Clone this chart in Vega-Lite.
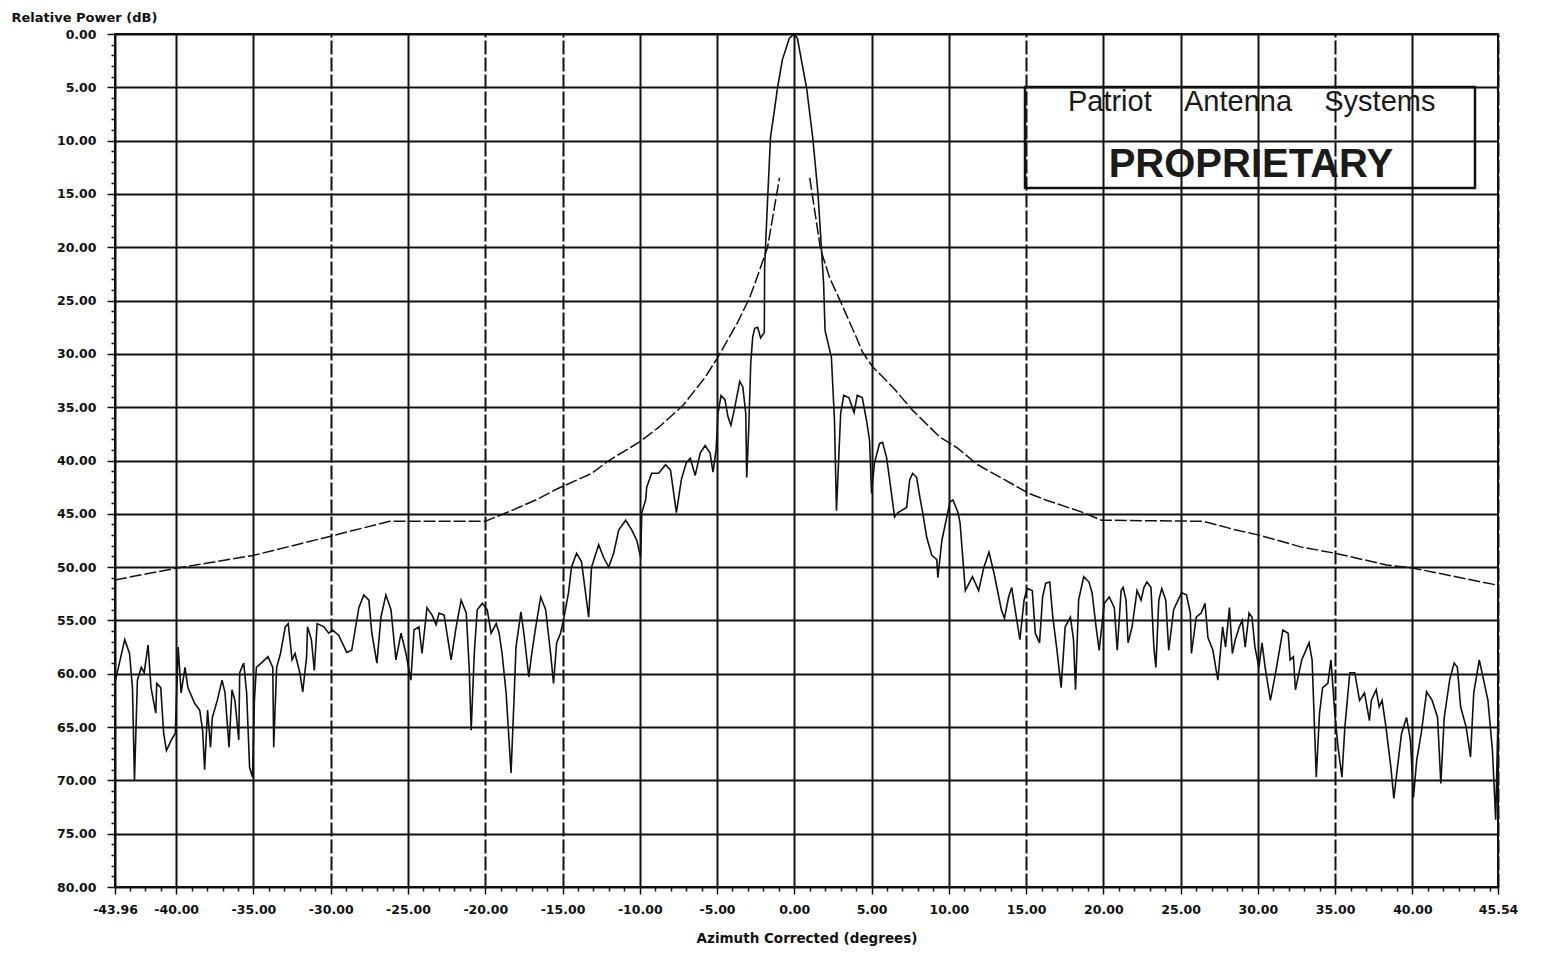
{
  "$schema": "https://vega.github.io/schema/vega-lite/v6.json",
  "width": 1383,
  "height": 853,
  "autosize": {"type": "none"},
  "padding": {"left": 115, "top": 34, "right": 53, "bottom": 73},
  "background": "white",
  "config": {"view": {"stroke": "#111", "strokeWidth": 2}, "font": "DejaVu Sans"},
  "datasets": {
    "mask": [
      {"side": "L", "az": -43.96, "db": 51.2}, {"side": "L", "az": -40, "db": 50.1}, {"side": "L", "az": -35, "db": 48.9},
      {"side": "L", "az": -30, "db": 47.1}, {"side": "L", "az": -26.2, "db": 45.7}, {"side": "L", "az": -20, "db": 45.7},
      {"side": "L", "az": -18.46, "db": 44.8}, {"side": "L", "az": -16.73, "db": 43.7}, {"side": "L", "az": -15.26, "db": 42.6},
      {"side": "L", "az": -13.1, "db": 41.2}, {"side": "L", "az": -12.0, "db": 40.0}, {"side": "L", "az": -10.06, "db": 38.3},
      {"side": "L", "az": -8.78, "db": 36.9}, {"side": "L", "az": -7.18, "db": 34.8}, {"side": "L", "az": -5.77, "db": 32.2},
      {"side": "L", "az": -4.94, "db": 30.3}, {"side": "L", "az": -3.65, "db": 27.0}, {"side": "L", "az": -2.88, "db": 24.7},
      {"side": "L", "az": -2.45, "db": 23.0}, {"side": "L", "az": -1.73, "db": 20.0}, {"side": "L", "az": -0.96, "db": 13.5},
      {"side": "R", "az": 1.0, "db": 13.5}, {"side": "R", "az": 1.7, "db": 20.2}, {"side": "R", "az": 2.3, "db": 22.9},
      {"side": "R", "az": 2.87, "db": 24.7}, {"side": "R", "az": 3.33, "db": 26.2}, {"side": "R", "az": 4.0, "db": 28.4},
      {"side": "R", "az": 4.4, "db": 29.8}, {"side": "R", "az": 5.06, "db": 31.2}, {"side": "R", "az": 6.36, "db": 33.1},
      {"side": "R", "az": 7.66, "db": 35.3}, {"side": "R", "az": 9.42, "db": 37.8}, {"side": "R", "az": 10.53, "db": 38.8},
      {"side": "R", "az": 11.87, "db": 40.4}, {"side": "R", "az": 13.6, "db": 41.8}, {"side": "R", "az": 15.2, "db": 43.1},
      {"side": "R", "az": 16.27, "db": 43.7}, {"side": "R", "az": 18.73, "db": 44.9}, {"side": "R", "az": 19.87, "db": 45.6},
      {"side": "R", "az": 26.46, "db": 45.7}, {"side": "R", "az": 28.54, "db": 46.5}, {"side": "R", "az": 30.07, "db": 47.0},
      {"side": "R", "az": 32.77, "db": 48.1}, {"side": "R", "az": 35.0, "db": 48.7}, {"side": "R", "az": 38.35, "db": 49.8},
      {"side": "R", "az": 40.07, "db": 50.1}, {"side": "R", "az": 45.54, "db": 51.7}
    ],
    "pattern": [
      {"az": -43.96, "db": 60.8}, {"az": -43.33, "db": 56.8}, {"az": -43.02, "db": 58.1}, {"az": -42.83, "db": 61.3},
      {"az": -42.7, "db": 70.0}, {"az": -42.51, "db": 60.6}, {"az": -42.26, "db": 59.4}, {"az": -42.07, "db": 59.9},
      {"az": -41.82, "db": 57.3}, {"az": -41.63, "db": 61.3}, {"az": -41.32, "db": 63.7}, {"az": -41.26, "db": 60.9},
      {"az": -41.0, "db": 61.3}, {"az": -40.81, "db": 65.6}, {"az": -40.63, "db": 67.2}, {"az": -40.31, "db": 66.2},
      {"az": -40.06, "db": 65.6}, {"az": -39.87, "db": 57.5}, {"az": -39.68, "db": 61.8}, {"az": -39.43, "db": 59.4},
      {"az": -39.24, "db": 61.3}, {"az": -38.8, "db": 62.8}, {"az": -38.48, "db": 63.4}, {"az": -38.29, "db": 65.3},
      {"az": -38.16, "db": 69.0}, {"az": -37.97, "db": 63.4}, {"az": -37.78, "db": 66.9}, {"az": -37.66, "db": 64.1},
      {"az": -37.34, "db": 62.5}, {"az": -37.03, "db": 60.6}, {"az": -36.84, "db": 61.8}, {"az": -36.58, "db": 66.9},
      {"az": -36.39, "db": 61.5}, {"az": -36.2, "db": 62.5}, {"az": -35.95, "db": 66.2}, {"az": -35.89, "db": 59.9},
      {"az": -35.63, "db": 59.0}, {"az": -35.44, "db": 61.8}, {"az": -35.25, "db": 68.8}, {"az": -35.06, "db": 69.7},
      {"az": -34.94, "db": 62.5}, {"az": -34.81, "db": 59.4}, {"az": -34.5, "db": 59.0}, {"az": -34.06, "db": 58.4},
      {"az": -33.75, "db": 59.4}, {"az": -33.69, "db": 66.9}, {"az": -33.5, "db": 59.4}, {"az": -33.25, "db": 58.1},
      {"az": -32.94, "db": 55.6}, {"az": -32.75, "db": 55.3}, {"az": -32.5, "db": 58.7}, {"az": -32.31, "db": 58.1},
      {"az": -32.0, "db": 59.9}, {"az": -31.81, "db": 61.7}, {"az": -31.56, "db": 58.4}, {"az": -31.5, "db": 55.6},
      {"az": -31.25, "db": 56.8}, {"az": -31.06, "db": 59.7}, {"az": -30.88, "db": 55.3}, {"az": -30.44, "db": 55.6},
      {"az": -30.13, "db": 56.2}, {"az": -29.87, "db": 55.9}, {"az": -29.48, "db": 56.4}, {"az": -28.96, "db": 58.0},
      {"az": -28.64, "db": 57.8}, {"az": -28.18, "db": 53.8}, {"az": -27.86, "db": 52.6}, {"az": -27.53, "db": 53.1},
      {"az": -27.34, "db": 56.2}, {"az": -27.01, "db": 59.0}, {"az": -26.75, "db": 54.7}, {"az": -26.43, "db": 52.6},
      {"az": -26.1, "db": 54.0}, {"az": -25.78, "db": 58.7}, {"az": -25.45, "db": 56.2}, {"az": -25.13, "db": 58.1},
      {"az": -24.81, "db": 60.6}, {"az": -24.61, "db": 55.9}, {"az": -24.29, "db": 55.6}, {"az": -24.09, "db": 58.1},
      {"az": -23.77, "db": 53.8}, {"az": -23.44, "db": 54.5}, {"az": -23.18, "db": 55.4}, {"az": -22.99, "db": 54.3},
      {"az": -22.66, "db": 54.5}, {"az": -22.21, "db": 58.7}, {"az": -21.88, "db": 55.6}, {"az": -21.56, "db": 53.1},
      {"az": -21.23, "db": 54.3}, {"az": -21.04, "db": 59.4}, {"az": -20.91, "db": 65.3}, {"az": -20.71, "db": 58.1},
      {"az": -20.52, "db": 54.0}, {"az": -20.19, "db": 53.4}, {"az": -19.87, "db": 54.0}, {"az": -19.62, "db": 56.2},
      {"az": -19.29, "db": 55.3}, {"az": -19.1, "db": 56.2}, {"az": -18.91, "db": 58.1}, {"az": -18.65, "db": 61.8},
      {"az": -18.33, "db": 69.3}, {"az": -18.14, "db": 62.5}, {"az": -18.01, "db": 57.5}, {"az": -17.69, "db": 54.2},
      {"az": -17.5, "db": 56.2}, {"az": -17.18, "db": 60.3}, {"az": -16.99, "db": 58.1}, {"az": -16.73, "db": 55.6},
      {"az": -16.41, "db": 52.8}, {"az": -16.09, "db": 54.0}, {"az": -15.77, "db": 58.1}, {"az": -15.58, "db": 60.9},
      {"az": -15.38, "db": 57.1}, {"az": -15.13, "db": 56.2}, {"az": -14.94, "db": 55.0}, {"az": -14.61, "db": 52.4},
      {"az": -14.42, "db": 50.0}, {"az": -14.09, "db": 48.7}, {"az": -13.77, "db": 49.5}, {"az": -13.51, "db": 52.4},
      {"az": -13.31, "db": 54.7}, {"az": -13.12, "db": 50.0}, {"az": -12.66, "db": 47.9}, {"az": -12.34, "db": 49.1},
      {"az": -12.01, "db": 50.0}, {"az": -11.69, "db": 48.7}, {"az": -11.36, "db": 46.5}, {"az": -10.91, "db": 45.6},
      {"az": -10.52, "db": 46.5}, {"az": -10.19, "db": 47.5}, {"az": -9.94, "db": 49.1}, {"az": -9.87, "db": 44.9},
      {"az": -9.62, "db": 43.7}, {"az": -9.55, "db": 42.5}, {"az": -9.23, "db": 41.2}, {"az": -8.78, "db": 41.2},
      {"az": -8.33, "db": 40.4}, {"az": -8.01, "db": 40.9}, {"az": -7.63, "db": 44.9}, {"az": -7.31, "db": 41.8},
      {"az": -6.99, "db": 40.2}, {"az": -6.73, "db": 39.8}, {"az": -6.41, "db": 41.4}, {"az": -6.09, "db": 39.3},
      {"az": -5.77, "db": 38.6}, {"az": -5.45, "db": 39.3}, {"az": -5.26, "db": 41.1}, {"az": -5.06, "db": 39.0},
      {"az": -4.94, "db": 35.6}, {"az": -4.74, "db": 33.9}, {"az": -4.49, "db": 34.3}, {"az": -4.29, "db": 35.9},
      {"az": -4.1, "db": 36.7}, {"az": -3.85, "db": 35.0}, {"az": -3.53, "db": 32.6}, {"az": -3.33, "db": 33.1},
      {"az": -3.14, "db": 35.6}, {"az": -3.08, "db": 41.6}, {"az": -2.95, "db": 37.1}, {"az": -2.82, "db": 30.9},
      {"az": -2.69, "db": 28.4}, {"az": -2.56, "db": 27.6}, {"az": -2.37, "db": 27.5}, {"az": -2.18, "db": 28.5},
      {"az": -1.94, "db": 28.0}, {"az": -1.93, "db": 25.0}, {"az": -1.92, "db": 21.9}, {"az": -1.73, "db": 15.6},
      {"az": -1.54, "db": 9.7}, {"az": -1.28, "db": 7.1}, {"az": -1.09, "db": 5.1}, {"az": -0.77, "db": 2.4},
      {"az": -0.32, "db": 0.4}, {"az": 0, "db": 0}, {"az": 0.2, "db": 0.4}, {"az": 0.8, "db": 5.1},
      {"az": 1.2, "db": 9.8}, {"az": 1.53, "db": 14.9}, {"az": 1.73, "db": 19.5}, {"az": 1.9, "db": 23.5},
      {"az": 1.99, "db": 27.8}, {"az": 2.4, "db": 30.3}, {"az": 2.6, "db": 36.2}, {"az": 2.73, "db": 44.7},
      {"az": 3.0, "db": 35.6}, {"az": 3.2, "db": 33.9}, {"az": 3.53, "db": 34.1}, {"az": 3.87, "db": 35.5},
      {"az": 4.07, "db": 33.9}, {"az": 4.4, "db": 34.1}, {"az": 4.67, "db": 36.2}, {"az": 4.87, "db": 38.1},
      {"az": 5.0, "db": 43.1}, {"az": 5.19, "db": 40.2}, {"az": 5.52, "db": 38.4}, {"az": 5.71, "db": 38.3},
      {"az": 5.97, "db": 39.7}, {"az": 6.17, "db": 41.8}, {"az": 6.49, "db": 45.3}, {"az": 6.69, "db": 44.9},
      {"az": 7.27, "db": 44.4}, {"az": 7.47, "db": 41.8}, {"az": 7.66, "db": 41.2}, {"az": 7.92, "db": 41.6},
      {"az": 8.12, "db": 43.4}, {"az": 8.31, "db": 44.9}, {"az": 8.57, "db": 47.2}, {"az": 8.9, "db": 48.9},
      {"az": 9.22, "db": 49.3}, {"az": 9.29, "db": 51.0}, {"az": 9.55, "db": 47.5}, {"az": 9.87, "db": 45.3},
      {"az": 10.07, "db": 43.9}, {"az": 10.27, "db": 43.7}, {"az": 10.6, "db": 44.9}, {"az": 10.73, "db": 45.9},
      {"az": 11.07, "db": 52.2}, {"az": 11.53, "db": 50.9}, {"az": 11.93, "db": 52.2}, {"az": 12.27, "db": 50.0},
      {"az": 12.6, "db": 48.6}, {"az": 12.93, "db": 50.6}, {"az": 13.4, "db": 54.0}, {"az": 13.6, "db": 54.8},
      {"az": 13.87, "db": 52.8}, {"az": 14.07, "db": 51.9}, {"az": 14.27, "db": 53.8}, {"az": 14.6, "db": 56.8},
      {"az": 14.87, "db": 53.1}, {"az": 15.07, "db": 52.0}, {"az": 15.4, "db": 52.2}, {"az": 15.6, "db": 56.2},
      {"az": 15.87, "db": 57.1}, {"az": 16.07, "db": 52.8}, {"az": 16.27, "db": 51.5}, {"az": 16.53, "db": 51.4},
      {"az": 16.73, "db": 54.7}, {"az": 17.0, "db": 57.8}, {"az": 17.27, "db": 61.3}, {"az": 17.53, "db": 55.6},
      {"az": 17.87, "db": 54.7}, {"az": 18.07, "db": 56.8}, {"az": 18.2, "db": 61.5}, {"az": 18.4, "db": 53.1},
      {"az": 18.73, "db": 50.9}, {"az": 19.07, "db": 51.4}, {"az": 19.27, "db": 52.4}, {"az": 19.53, "db": 55.6},
      {"az": 19.73, "db": 57.8}, {"az": 20.06, "db": 53.4}, {"az": 20.38, "db": 52.8}, {"az": 20.71, "db": 53.8},
      {"az": 20.9, "db": 57.8}, {"az": 21.15, "db": 52.2}, {"az": 21.28, "db": 51.9}, {"az": 21.47, "db": 53.1},
      {"az": 21.6, "db": 57.1}, {"az": 21.86, "db": 55.6}, {"az": 22.18, "db": 52.2}, {"az": 22.44, "db": 53.1},
      {"az": 22.63, "db": 51.9}, {"az": 22.82, "db": 51.4}, {"az": 23.08, "db": 51.9}, {"az": 23.27, "db": 57.5},
      {"az": 23.4, "db": 59.4}, {"az": 23.59, "db": 53.1}, {"az": 23.78, "db": 52.0}, {"az": 24.04, "db": 53.1},
      {"az": 24.23, "db": 57.8}, {"az": 24.55, "db": 54.0}, {"az": 24.74, "db": 53.4}, {"az": 25.06, "db": 52.4},
      {"az": 25.38, "db": 52.6}, {"az": 25.63, "db": 54.3}, {"az": 25.7, "db": 58.1}, {"az": 26.01, "db": 54.7},
      {"az": 26.33, "db": 54.3}, {"az": 26.58, "db": 53.4}, {"az": 26.77, "db": 56.6}, {"az": 27.09, "db": 57.8},
      {"az": 27.41, "db": 60.6}, {"az": 27.72, "db": 55.6}, {"az": 27.91, "db": 57.5}, {"az": 28.16, "db": 53.8},
      {"az": 28.35, "db": 58.1}, {"az": 28.54, "db": 56.8}, {"az": 28.8, "db": 55.6}, {"az": 28.99, "db": 55.0},
      {"az": 29.18, "db": 57.5}, {"az": 29.43, "db": 54.3}, {"az": 29.62, "db": 54.7}, {"az": 29.81, "db": 57.5},
      {"az": 30.07, "db": 59.4}, {"az": 30.27, "db": 57.1}, {"az": 30.47, "db": 59.4}, {"az": 30.81, "db": 62.5},
      {"az": 31.15, "db": 59.9}, {"az": 31.62, "db": 55.9}, {"az": 31.96, "db": 56.2}, {"az": 32.09, "db": 58.7},
      {"az": 32.3, "db": 58.4}, {"az": 32.43, "db": 61.5}, {"az": 32.84, "db": 58.7}, {"az": 33.31, "db": 57.1},
      {"az": 33.51, "db": 58.7}, {"az": 33.78, "db": 69.7}, {"az": 33.99, "db": 63.7}, {"az": 34.19, "db": 61.3},
      {"az": 34.53, "db": 60.9}, {"az": 34.73, "db": 58.7}, {"az": 35.0, "db": 64.1}, {"az": 35.19, "db": 66.9},
      {"az": 35.44, "db": 69.7}, {"az": 35.63, "db": 65.0}, {"az": 35.95, "db": 59.9}, {"az": 36.27, "db": 59.9},
      {"az": 36.58, "db": 62.5}, {"az": 36.9, "db": 61.8}, {"az": 37.22, "db": 64.4}, {"az": 37.34, "db": 62.5},
      {"az": 37.66, "db": 61.5}, {"az": 37.85, "db": 63.1}, {"az": 38.04, "db": 62.5}, {"az": 38.29, "db": 65.0},
      {"az": 38.61, "db": 68.8}, {"az": 38.8, "db": 71.7}, {"az": 38.99, "db": 69.3}, {"az": 39.3, "db": 65.6},
      {"az": 39.62, "db": 64.1}, {"az": 39.87, "db": 66.2}, {"az": 40.07, "db": 71.6}, {"az": 40.28, "db": 68.1},
      {"az": 40.57, "db": 65.6}, {"az": 40.92, "db": 61.7}, {"az": 41.28, "db": 62.5}, {"az": 41.63, "db": 64.1},
      {"az": 41.84, "db": 70.3}, {"az": 42.06, "db": 64.1}, {"az": 42.41, "db": 60.6}, {"az": 42.7, "db": 59.0},
      {"az": 42.91, "db": 59.4}, {"az": 43.12, "db": 63.1}, {"az": 43.48, "db": 65.0}, {"az": 43.76, "db": 67.8},
      {"az": 43.97, "db": 61.8}, {"az": 44.33, "db": 58.7}, {"az": 44.61, "db": 60.6}, {"az": 44.89, "db": 62.5},
      {"az": 45.18, "db": 67.2}, {"az": 45.39, "db": 73.7}, {"az": 45.54, "db": 64.1}
    ]
  },
  "encoding": {
    "x": {
      "field": "az", "type": "quantitative",
      "scale": {"domain": [-43.96, 45.54], "nice": false, "zero": false},
      "axis": {
        "values": [-43.96, -43, -42, -41, -40, -39, -38, -37, -36, -35, -34, -33, -32, -31, -30, -29, -28, -27, -26, -25, -24, -23, -22, -21, -20, -19, -18, -17, -16, -15, -14, -13, -12, -11, -10, -9, -8, -7, -6, -5, -4, -3, -2, -1, 0, 1, 2, 3, 4, 5, 6, 7, 8, 9, 10, 11, 12, 13, 14, 15, 16, 17, 18, 19, 20, 21, 22, 23, 24, 25, 26, 27, 28, 29, 30, 31, 32, 33, 34, 35, 36, 37, 38, 39, 40, 41, 42, 43, 44, 45, 45.54],
        "labelExpr": "(datum.value % 1 !== 0 || (datum.value % 5 === 0 && datum.value !== 45)) ? ((datum.value < 0 ? '-' : '') + format(abs(datum.value), '.2f')) : ''",
        "labelFont": "DejaVu Sans", "labelFontWeight": "bold", "labelFontSize": 12.5, "labelColor": "#111",
        "labelOverlap": false, "labelFlush": false, "labelBound": false, "labelPadding": 9,
        "domain": false,
        "ticks": true, "tickColor": "#111", "tickWidth": 1.5,
        "tickSize": {"condition": {"test": "datum.value % 1 !== 0 || (datum.value % 5 === 0 && datum.value !== 45)", "value": 7}, "value": 4},
        "grid": true, "gridColor": "#111", "gridWidth": 2,
        "gridOpacity": {"condition": {"test": "datum.value % 1 !== 0 || (datum.value % 5 === 0 && datum.value !== 45)", "value": 1}, "value": 0},
        "gridDash": {"condition": {"test": "indexof([-30, -20, -15, 15, 35, 45.54], datum.value) >= 0", "value": [14, 3]}, "value": []},
        "title": "Azimuth Corrected (degrees)", "titleFont": "DejaVu Sans", "titleFontWeight": "bold", "titleFontSize": 13.5,
        "titleColor": "#111", "titleY": 51, "titleBaseline": "middle"
      }
    },
    "y": {
      "field": "db", "type": "quantitative",
      "scale": {"domain": [0, 80], "reverse": true, "nice": false, "zero": false},
      "axis": {
        "values": [0, 1, 2, 3, 4, 5, 6, 7, 8, 9, 10, 11, 12, 13, 14, 15, 16, 17, 18, 19, 20, 21, 22, 23, 24, 25, 26, 27, 28, 29, 30, 31, 32, 33, 34, 35, 36, 37, 38, 39, 40, 41, 42, 43, 44, 45, 46, 47, 48, 49, 50, 51, 52, 53, 54, 55, 56, 57, 58, 59, 60, 61, 62, 63, 64, 65, 66, 67, 68, 69, 70, 71, 72, 73, 74, 75, 76, 77, 78, 79, 80],
        "labelExpr": "datum.value % 5 === 0 ? format(datum.value, '.2f') : ''",
        "labelFont": "DejaVu Sans", "labelFontWeight": "bold", "labelFontSize": 12.5, "labelColor": "#111",
        "labelOverlap": false, "labelFlush": false, "labelBound": false, "labelPadding": 11,
        "domain": false,
        "ticks": true, "tickColor": "#111", "tickWidth": 1.5,
        "tickSize": {"condition": {"test": "datum.value % 5 === 0", "value": 8}, "value": 4},
        "grid": true, "gridColor": "#111", "gridWidth": 2,
        "gridOpacity": {"condition": {"test": "datum.value % 5 === 0", "value": 1}, "value": 0},
        "title": "Relative Power (dB)", "titleFont": "DejaVu Sans", "titleFontWeight": "bold", "titleFontSize": 13,
        "titleColor": "#111", "titleAngle": 0, "titleAlign": "left", "titleBaseline": "middle", "titleX": -104, "titleY": -17
      }
    }
  },
  "layer": [
    {
      "data": {"name": "mask"},
      "mark": {"type": "line", "color": "#111", "strokeWidth": 1.5, "strokeDash": [12, 3], "clip": true},
      "encoding": {"detail": {"field": "side", "type": "nominal"}}
    },
    {
      "data": {"name": "pattern"},
      "mark": {"type": "line", "color": "#111", "strokeWidth": 1.6, "clip": true},
      "encoding": {}
    },
    {
      "data": {"values": [{"az": 14.93, "az2": 44.05, "db": 4.97, "db2": 14.45}]},
      "mark": {"type": "rect", "filled": false, "stroke": "#111", "strokeWidth": 2.5},
      "encoding": {
        "x2": {"field": "az2"},
        "y2": {"field": "db2"}
      }
    },
    {
      "data": {"values": [{"az": 29.6, "db": 7.2, "label": "Patriot\u00a0\u00a0\u00a0\u00a0Antenna\u00a0\u00a0\u00a0\u00a0Systems"}]},
      "mark": {"type": "text", "font": "Liberation Sans", "fontSize": 29, "color": "#1a1a1a", "align": "center", "baseline": "alphabetic"},
      "encoding": {"text": {"field": "label"}}
    },
    {
      "data": {"values": [{"az": 29.55, "db": 13.41, "label": "PROPRIETARY"}]},
      "mark": {"type": "text", "font": "Liberation Sans", "fontSize": 40, "fontWeight": "bold", "color": "#1a1a1a", "align": "center", "baseline": "alphabetic"},
      "encoding": {"text": {"field": "label"}}
    }
  ]
}
